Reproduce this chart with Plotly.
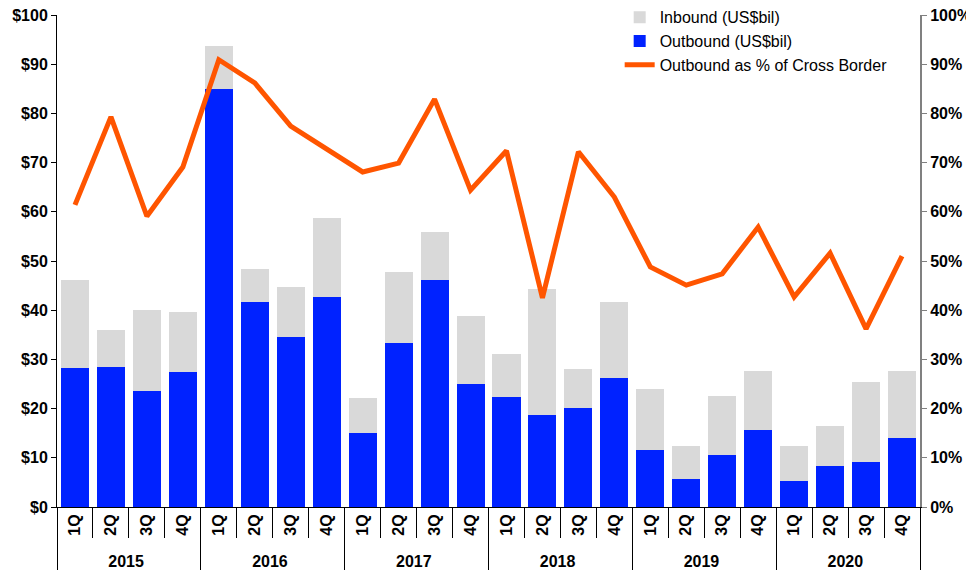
import plotly.graph_objects as go

years = ["2015"] * 4 + ["2016"] * 4 + ["2017"] * 4 + ["2018"] * 4 + ["2019"] * 4 + ["2020"] * 4
quarters = ["1Q", "2Q", "3Q", "4Q"] * 6

outbound = [28.3, 28.5, 23.5, 27.4,
            85.0, 41.6, 34.6, 42.6,
            15.0, 33.4, 46.2, 24.9,
            22.3, 18.8, 20.2, 26.3,
            11.6, 5.6, 10.6, 15.7,
            5.2, 8.4, 9.1, 14.0]
inbound = [17.9, 7.5, 16.5, 12.2,
           8.7, 6.8, 10.2, 16.1,
           7.1, 14.4, 9.6, 13.9,
           8.7, 25.6, 7.9, 15.4,
           12.4, 6.9, 12.0, 12.0,
           7.3, 8.0, 16.3, 13.6]
outbound_pct = [61.4, 79.3, 59.1, 69.1,
                90.9, 86.2, 77.4, 72.6,
                68.1, 69.9, 82.9, 64.4,
                72.4, 42.5, 72.2, 63.0,
                48.8, 45.1, 47.4, 56.9,
                42.7, 51.6, 36.2, 51.0]

x = [years, quarters]
FONT = "Liberation Sans, Arial, sans-serif"

fig = go.Figure()
fig.add_trace(go.Bar(x=x, y=outbound, name="Outbound (US$bil)",
                     marker=dict(color="#0022FF", line=dict(width=0)),
                     legendrank=2))
fig.add_trace(go.Bar(x=x, y=inbound, name="Inbound (US$bil)",
                     marker=dict(color="#D9D9D9", line=dict(width=0)),
                     legendrank=1))
fig.add_trace(go.Scatter(x=x, y=outbound_pct, name="Outbound as % of Cross Border",
                         mode="lines", line=dict(color="#FF5500", width=5),
                         yaxis="y2", legendrank=3))

fig.update_layout(
    width=966, height=562,
    barmode="stack", bargap=0.22,
    plot_bgcolor="white", paper_bgcolor="white",
    margin=dict(l=49, r=54, t=7, b=63, autoexpand=False),
    font=dict(family=FONT, size=16, color="black"),
    showlegend=True,
    legend=dict(x=0.652, y=1.03, xanchor="left", yanchor="top",
                traceorder="normal", bgcolor="rgba(0,0,0,0)",
                font=dict(family=FONT, size=16), itemwidth=30,
                tracegroupgap=0),
    xaxis=dict(type="multicategory", showline=True, linecolor="black", linewidth=1,
               ticks="outside", tickson="boundaries", ticklen=30, tickcolor="black",
               tickangle=-90, showdividers=True, dividercolor="black", dividerwidth=1,
               tickfont=dict(family=FONT, size=16, color="black", weight="bold"),
               showgrid=False, zeroline=False, automargin=False),
    yaxis=dict(range=[0, 100], dtick=10, tickprefix="$", showline=True,
               linecolor="black", linewidth=1, ticks="outside", ticklen=5,
               tickcolor="black", showgrid=False, zeroline=False, automargin=False,
               ticklabeloverflow="allow",
               tickfont=dict(family=FONT, size=16, color="black", weight="bold")),
    yaxis2=dict(range=[0, 100], dtick=10, ticksuffix="%", overlaying="y", side="right",
                showline=True, linecolor="#808080", linewidth=2, ticks="outside",
                ticklen=5, tickcolor="#808080", showgrid=False, zeroline=False,
                automargin=False, ticklabeloverflow="allow",
                tickfont=dict(family=FONT, size=16, color="black", weight="bold")),
)

fig.write_html("out.html")
